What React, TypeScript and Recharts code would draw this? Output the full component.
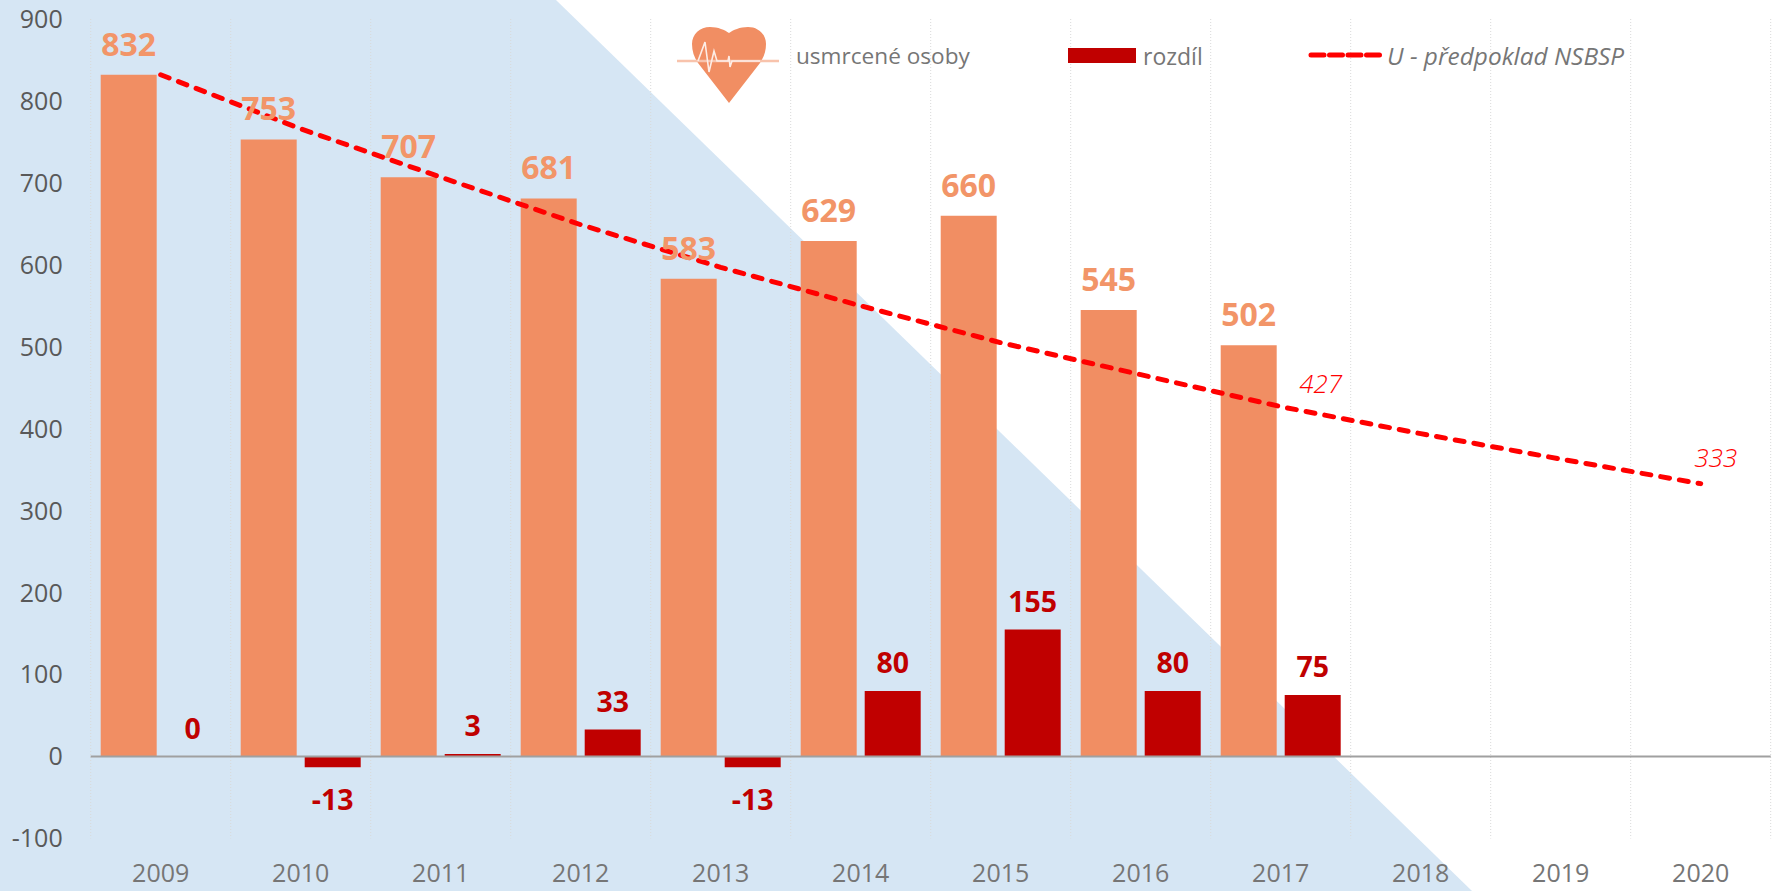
import { Bar, CartesianGrid, ComposedChart, Line, ReferenceLine, XAxis, YAxis } from 'recharts'

const years = ['2009', '2010', '2011', '2012', '2013', '2014', '2015', '2016', '2017', '2018', '2019', '2020']
const deaths = [832, 753, 707, 681, 583, 629, 660, 545, 502, null, null, null]
const diff = [0, -13, 3, 33, -13, 80, 155, 80, 75, null, null, null]
const target = [832, 766, 707, 649, 597, 550, 505, 466, 427, 394, 363, 333]
const yTicks = [-100, 0, 100, 200, 300, 400, 500, 600, 700, 800, 900]

const data = years.map((year, i) => ({ year, deaths: deaths[i], diff: diff[i], target: target[i] }))

const FONT = '"Open Sans", sans-serif'
const ORANGE = '#F18E63'
const ORANGE_LABEL = '#F29568'
const RED = '#C00000'
const GREY = '#767676'
const BAR_SHIFT = 32 // bar centre to category centre

// gridlines sit between categories, not on the ticks
const gridX = ({ offset }: any) => years.concat('').map((_, i) => offset.left + (i * offset.width) / years.length)

function TargetLabel({ x, y, index }: any) {
  if (index !== 8 && index !== 11) return null
  return (
    <text
      x={x + (index === 8 ? 40 : 15)}
      y={y - (index === 8 ? 14 : 17)}
      textAnchor="middle"
      fill="#FF0000"
      fontFamily={FONT}
      fontSize={26}
      fontStyle="italic"
      fontWeight={300}
    >
      {target[index]}
    </text>
  )
}

function DeathsLabel({ x, y, value }: any) {
  if (value == null) return null
  return (
    <text
      x={x - BAR_SHIFT}
      y={y - 19}
      textAnchor="middle"
      fill={ORANGE_LABEL}
      fontFamily={FONT}
      fontSize={32}
      fontWeight={700}
    >
      {value}
    </text>
  )
}

function DiffLabel({ x, y, value }: any) {
  if (value == null) return null
  return (
    <text
      x={x + BAR_SHIFT}
      y={value < 0 ? y + 43 : y - 18}
      textAnchor="middle"
      fill={RED}
      fontFamily={FONT}
      fontSize={28.5}
      fontWeight={700}
    >
      {value}
    </text>
  )
}

function Heart() {
  return (
    <svg width={102} height={78} viewBox="0 0 102 78" style={{ position: 'absolute', left: 677, top: 27 }}>
      <path
        d="M52 76 L21 36 C17 30 15 24 15 17 C15 7 23 0 33 0 C41 0 48 3 52 6 C56 3 63 0 71 0 C81 0 89 7 89 17 C89 24 87 30 83 36 Z"
        fill={ORANGE}
      />
      <path d="M0 34 H102" stroke="#F8C3AC" strokeWidth={2.5} fill="none" />
      <path
        d="M21 34 L28 15 L32 45 L37 24 L40 34 H51 L52 29 L53 40 L55 34 H83"
        stroke="#FDEDE6"
        strokeWidth={1.6}
        fill="none"
      />
    </svg>
  )
}

function ChartLegend() {
  const text: React.CSSProperties = {
    position: 'absolute',
    top: 40,
    fontFamily: FONT,
    lineHeight: '32px',
    color: GREY,
    whiteSpace: 'nowrap',
  }
  return (
    <>
      <Heart />
      <span style={{ ...text, left: 796, fontSize: 22.6 }}>usmrcené osoby</span>
      <div style={{ position: 'absolute', left: 1068, top: 48, width: 68, height: 15, background: RED }} />
      <span style={{ ...text, left: 1143, fontSize: 23 }}>rozdíl</span>
      <svg width={78} height={8} style={{ position: 'absolute', left: 1308, top: 51 }}>
        <line x1={3} x2={75} y1={4} y2={4} stroke="#FF0000" strokeWidth={5} strokeDasharray="13 5.5" strokeLinecap="round" />
      </svg>
      <span style={{ ...text, left: 1387, fontSize: 24.4, fontStyle: 'italic' }}>U - předpoklad NSBSP</span>
    </>
  )
}

export default function App() {
  return (
    <div style={{ position: 'absolute', left: 0, top: 0, width: 1775, height: 891, overflow: 'hidden', background: '#fff' }}>
      <div
        style={{
          position: 'absolute',
          inset: 0,
          background: '#D6E6F4',
          clipPath: 'polygon(0 0, 556px 0, 1472px 891px, 0 891px)',
        }}
      />
      <div style={{ position: 'absolute', left: 0, top: 0 }}>
        <ComposedChart
          width={1775}
          height={891}
          data={data}
          margin={{ top: 19, right: 4.3, bottom: 0, left: 0 }}
          barSize={56}
          barGap={8}
          barCategoryGap={10}
        >
          <CartesianGrid horizontal={false} stroke="#D9D9D9" strokeDasharray="1 2" verticalCoordinatesGenerator={gridX} />
          <XAxis
            dataKey="year"
            height={52.5}
            axisLine={false}
            tickLine={false}
            tickSize={0}
            tickMargin={26}
            interval={0}
            tick={{ fill: GREY, fontFamily: FONT, fontSize: 25 }}
          />
          <YAxis
            width={90.7}
            domain={[-100, 900]}
            ticks={yTicks}
            interval={0}
            axisLine={false}
            tickLine={false}
            tickSize={0}
            tickMargin={28}
            tick={{ fill: '#595959', fontFamily: FONT, fontSize: 25 }}
          />
          <ReferenceLine y={0} stroke="#A0A0A0" strokeWidth={2} />
          <Bar dataKey="deaths" fill={ORANGE} isAnimationActive={false} />
          <Bar dataKey="diff" fill={RED} isAnimationActive={false} />
          <Line
            dataKey="target"
            stroke="#FF0000"
            strokeWidth={5}
            strokeDasharray="9 9.975"
            strokeLinecap="round"
            dot={false}
            activeDot={false}
            label={<TargetLabel />}
            isAnimationActive={false}
          />
          {/* invisible lines carry the value labels so they sit above the dashed line */}
          <Line dataKey="deaths" stroke="none" dot={false} activeDot={false} label={<DeathsLabel />} isAnimationActive={false} />
          <Line dataKey="diff" stroke="none" dot={false} activeDot={false} label={<DiffLabel />} isAnimationActive={false} />
        </ComposedChart>
      </div>
      <ChartLegend />
    </div>
  )
}
